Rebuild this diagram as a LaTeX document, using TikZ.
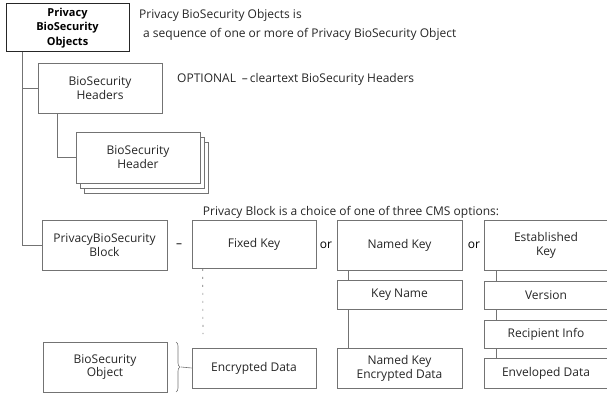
\documentclass[tikz,border=0pt]{standalone}
\usepackage{fontspec}
\setmainfont{Open Sans}
\usetikzlibrary{decorations.pathreplacing}
\tikzset{
  box/.style={draw=black!55, line width=0.6pt, fill=white, inner sep=0pt, align=center,
    font=\fontsize{12}{13.8}\selectfont, text=black!85},
  topbox/.style={box, draw=black!85, line width=1pt, text=black, font=\bfseries\fontsize{11}{14.5}\selectfont},
  lbl/.style={inner sep=0pt, anchor=west, font=\fontsize{12}{13.8}\selectfont, text=black!85},
  conn/.style={draw=black!55, line width=0.6pt},
}
\begin{document}
\begin{tikzpicture}[x=1pt,y=-1pt]
\useasboundingbox (0,0) rectangle (607,395);
% top
\node[topbox, minimum width=123pt, minimum height=48pt] (top) at (67.5,28) {Privacy\\BioSecurity\\Objects};
\node[lbl] (t1) at (139,15) {Privacy BioSecurity Objects is};
\node[lbl] (t2) at (143,34) {a sequence of one or more of Privacy BioSecurity Object};
% headers
\node[box, minimum width=124pt, minimum height=50pt] (headers) at (100,88) {BioSecurity\\Headers};
\node[lbl] (t3) at (177,79) {OPTIONAL\hspace{6pt}–\hspace{2pt}cleartext BioSecurity Headers};
% header with stack
\node[box, minimum width=124pt, minimum height=51pt] (hdrs2) at (146,167.5) {};
\node[box, minimum width=124pt, minimum height=51pt] (hdrs1) at (142,162.5) {};
\node[box, minimum width=124pt, minimum height=51pt] (header) at (138,157.5) {BioSecurity\\Header};
% privacy block row
\node[lbl, anchor=center] (t4) at (351,212) {Privacy Block is a choice of one of three CMS options:};
\node[box, minimum width=125pt, minimum height=50pt] (pbsb) at (104.5,245) {PrivacyBioSecurity\\Block};
\node[inner sep=0pt, font=\fontsize{12}{13.8}\selectfont] (dash) at (179,246) {–};
\node[box, minimum width=124pt, minimum height=48pt] (fixed) at (254,244.5) {Fixed Key};
\node[inner sep=0pt, font=\fontsize{12}{13.8}\selectfont] (or1) at (326,245) {or};
\node[box, minimum width=125pt, minimum height=50pt] (named) at (399.5,245.5) {Named Key};
\node[inner sep=0pt, font=\fontsize{12}{13.8}\selectfont] (or2) at (474,245) {or};
\node[box, minimum width=124pt, minimum height=50pt] (estab) at (546,245.5) {Established\\Key};
\node[box, minimum width=125pt, minimum height=29pt] (keyname) at (399.5,294.5) {Key Name};
\node[box, minimum width=124pt, minimum height=28pt] (version) at (546,295) {Version};
\node[box, minimum width=124pt, minimum height=28pt] (recip) at (546,334) {Recipient Info};
\node[box, minimum width=124pt, minimum height=30pt] (env) at (546,373) {Enveloped Data};
\node[box, minimum width=125pt, minimum height=40pt] (nked) at (399.5,368) {Named Key\\Encrypted Data};
\node[box, minimum width=124pt, minimum height=40pt] (encr) at (254,368) {Encrypted Data};
\node[box, minimum width=124pt, minimum height=50pt] (bsobj) at (105,367) {BioSecurity\\Object};
% connectors
\coordinate (trunk) at (22,52);
\draw[conn] (trunk) |- (pbsb.west);
\draw[conn] (trunk |- headers.west) -- (headers.west);
\draw[conn] ([xshift=20pt]headers.south west) |- (header.west);
\draw[conn] ([xshift=12pt]named.south west) -- ([xshift=12pt]keyname.north west);
\draw[conn] ([xshift=12pt]keyname.south west) -- ([xshift=12pt]nked.north west);
\draw[conn] ([xshift=13pt]estab.south west) -- ([xshift=13pt]version.north west);
\draw[conn] ([xshift=13pt]version.south west) -- ([xshift=13pt]recip.north west);
\draw[conn] ([xshift=13pt]recip.south west) -- ([xshift=13pt]env.north west);
\coordinate (fixedend) at (203,334);
\draw[conn, dash pattern=on 2pt off 6pt] ([xshift=11pt]fixed.south west) -- (fixedend);
\draw[conn, decorate, decoration={brace, amplitude=4pt}] (176,342) -- (176,392);
\coordinate (bracetip) at (181,367);
\draw[conn] (bracetip) -- (encr.west);
\end{tikzpicture}
\end{document}
